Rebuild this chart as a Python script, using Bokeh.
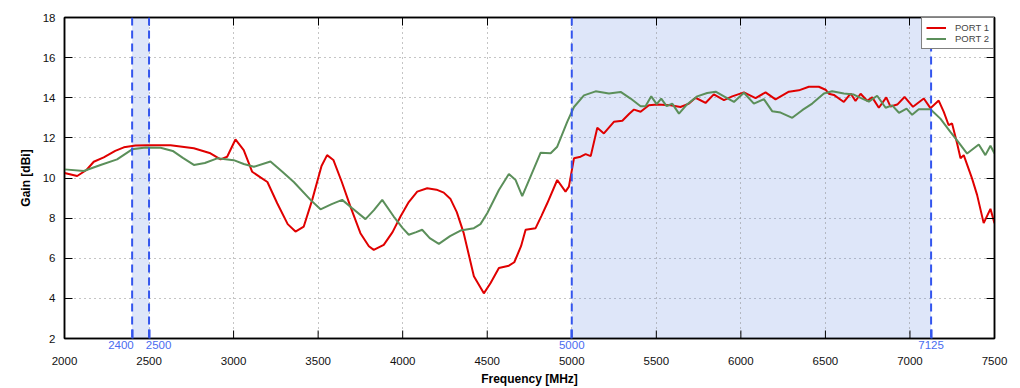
from bokeh.plotting import figure
from bokeh.models import (Range1d, FixedTicker, LinearAxis, BoxAnnotation, Span, Grid,
                          Legend, LegendItem, CustomJSTickFormatter)
from bokeh.embed import file_html
from bokeh.resources import INLINE

# ---------------- data ----------------
freq_p1 = [2000, 2075, 2130, 2173, 2232, 2300, 2351, 2420, 2489, 2627, 2765, 2863, 2923, 2962,
           3011, 3060, 3110, 3159, 3200, 3258, 3320, 3366, 3415, 3465, 3520, 3553, 3590, 3640,
           3691, 3750, 3800, 3829, 3888, 3940, 3987, 4036, 4086, 4145, 4200, 4243, 4283, 4320,
           4361, 4421, 4480, 4520, 4569, 4628, 4660, 4700, 4727, 4786, 4820, 4855, 4914, 4963,
           4983, 5013, 5052, 5082, 5112, 5151, 5190, 5249, 5299, 5340, 5368, 5407, 5456, 5506,
           5584, 5643, 5693, 5732, 5791, 5840, 5900, 5949, 6018, 6087, 6146, 6205, 6284, 6343,
           6402, 6461, 6501, 6520, 6550, 6609, 6649, 6678, 6708, 6747, 6777, 6816, 6860, 6885,
           6925, 6968, 7018, 7082, 7121, 7170, 7200, 7229, 7249, 7279, 7299, 7318, 7367, 7397,
           7436, 7476, 7500]
gain_p1 = [10.25, 10.1, 10.4, 10.81, 11.03, 11.35, 11.53, 11.62, 11.63, 11.63, 11.48, 11.23, 10.93, 11.06,
           11.92, 11.39, 10.31, 10.03, 9.8, 8.74, 7.7, 7.33, 7.58, 8.91, 10.6, 11.14, 10.9, 9.8,
           8.57, 7.25, 6.6, 6.42, 6.67, 7.3, 8.08, 8.8, 9.32, 9.49, 9.42, 9.27, 8.95, 8.3,
           7.25, 5.1, 4.25, 4.77, 5.51, 5.63, 5.8, 6.6, 7.42, 7.5, 8.1, 8.74, 9.9, 9.32,
           9.57, 10.98, 11.06, 11.19, 11.09, 12.5, 12.22, 12.8, 12.85, 13.2, 13.41, 13.3, 13.63, 13.66,
           13.63, 13.54, 13.71, 14.0, 13.74, 14.17, 13.88, 14.07, 14.27, 13.98, 14.27, 13.92, 14.3, 14.37,
           14.55, 14.55, 14.4, 14.2, 14.14, 13.79, 14.21, 13.84, 14.2, 13.85, 14.02, 13.5, 14.02, 13.56,
           13.66, 14.04, 13.55, 13.96, 13.48, 13.86, 13.3, 12.63, 12.72, 11.72, 10.98, 11.14, 9.98, 9.16,
           7.75, 8.46, 7.75]

freq_p2 = [2000, 2114, 2213, 2311, 2400, 2480, 2568, 2640, 2700, 2765, 2830, 2903, 3001, 3060,
           3120, 3218, 3290, 3356, 3455, 3514, 3580, 3642, 3700, 3780, 3830, 3879, 3947, 4000,
           4036, 4080, 4115, 4160, 4214, 4280, 4342, 4421, 4460, 4500, 4569, 4628, 4668, 4707,
           4756, 4816, 4875, 4914, 4973, 5013, 5072, 5141, 5220, 5289, 5348, 5407, 5436, 5470,
           5502, 5529, 5561, 5594, 5634, 5683, 5742, 5801, 5851, 5900, 5959, 6018, 6077, 6136,
           6185, 6235, 6304, 6363, 6422, 6491, 6540, 6609, 6668, 6708, 6757, 6806, 6856, 6895,
           6935, 6980, 7013, 7052, 7121, 7180, 7239, 7290, 7338, 7407, 7446, 7476, 7500]
gain_p2 = [10.43, 10.35, 10.65, 10.93, 11.43, 11.52, 11.51, 11.35, 11.0, 10.65, 10.75, 10.98, 10.89, 10.7,
           10.56, 10.82, 10.3, 9.8, 8.91, 8.44, 8.7, 8.91, 8.5, 7.95, 8.4, 8.91, 8.08, 7.5,
           7.17, 7.3, 7.42, 7.0, 6.72, 7.1, 7.38, 7.5, 7.7, 8.24, 9.4, 10.2, 9.9, 9.1,
           10.07, 11.26, 11.23, 11.56, 12.8, 13.54, 14.12, 14.32, 14.21, 14.29, 13.96, 13.58, 13.58, 14.07,
           13.68, 13.96, 13.58, 13.71, 13.21, 13.68, 14.07, 14.24, 14.3, 14.07, 13.79, 14.25, 13.71, 13.93,
           13.33, 13.26, 13.0, 13.38, 13.71, 14.21, 14.32, 14.21, 14.16, 13.99, 13.81, 14.1, 13.5, 13.62,
           13.25, 13.46, 13.15, 13.43, 13.43, 12.96, 12.3, 11.75, 11.22, 11.67, 11.14, 11.61, 11.22]

series_names = ["PORT 1", "PORT 2"]
x_ticks = list(range(2000, 7501, 500))
y_ticks = list(range(2, 19, 2))
bands = [(2400, 2500), (5000, 7125)]
band_edges = [2400, 2500, 5000, 7125]
band_labels = ["2400", "2500", "5000", "7125"]

# ---------------- style ----------------
FONT = "Liberation Sans"
RED = "#e00000"
GREEN = "#5b8f5a"
BLUE_LINE = "#3355ee"
BLUE_TEXT = "#4a6cf0"
NB = "\u00a0"
# horizontal nudges for the crowded 2400/2500 labels (padding only, text unchanged)
pad_after = [7, 0, 0, 0]
pad_before = [0, 6, 0, 0]

p = figure(width=1020, height=388, output_backend="svg", toolbar_location=None,
           x_range=Range1d(2000, 7500), y_range=Range1d(2, 18),
           min_border_left=64, min_border_right=26, min_border_top=17, min_border_bottom=49,
           background_fill_color="white", border_fill_color="white", x_axis_location=None)
p.outline_line_color = "black"
p.outline_line_width = 1.5

# bands
for lo, hi in bands:
    p.add_layout(BoxAnnotation(left=lo, right=hi, fill_color="#4f78e0", fill_alpha=0.19,
                               line_color=None, level="underlay"))

# grids
p.xgrid.visible = False
p.ygrid.grid_line_color = "#8a8a8a"
p.ygrid.grid_line_dash = "1 4"
p.ygrid.grid_line_width = 1
p.ygrid.ticker = FixedTicker(ticks=y_ticks)
vg = Grid(dimension=0, ticker=FixedTicker(ticks=x_ticks), grid_line_color="#8a8a8a",
          grid_line_dash="1 4", grid_line_width=1)
p.add_layout(vg, "center")

# band-edge axis (adjacent to the frame, blue)
overrides = {e: NB * b + t + NB * a for e, t, a, b in zip(band_edges, band_labels, pad_after, pad_before)}
ba = LinearAxis(ticker=FixedTicker(ticks=band_edges), major_label_overrides=overrides)
ba.major_tick_in = 9
ba.major_tick_out = 0
ba.major_tick_line_color = BLUE_LINE
ba.major_tick_line_width = 2
ba.minor_tick_line_color = None
ba.axis_line_color = "black"
ba.axis_line_width = 1.5
ba.major_label_standoff = 0
ba.major_label_text_color = BLUE_TEXT
ba.major_label_text_font = FONT
ba.major_label_text_font_size = "11.5px"
p.add_layout(ba, "below")

# main frequency axis (labels only, below the band labels)
xa = LinearAxis(ticker=FixedTicker(ticks=x_ticks), axis_label="Frequency [MHz]")
xa.major_tick_in = 0
xa.major_tick_out = 0
xa.major_tick_line_color = None
xa.minor_tick_line_color = None
xa.axis_line_color = None
xa.major_label_standoff = 3
xa.major_label_text_font = FONT
xa.major_label_text_font_size = "11.5px"
xa.major_label_text_color = "#111111"
xa.axis_label_standoff = 4
xa.axis_label_text_font = FONT
xa.axis_label_text_font_size = "12px"
xa.axis_label_text_font_style = "bold"
xa.axis_label_text_color = "black"
p.add_layout(xa, "below")

ya = p.yaxis[0]
ya.ticker = FixedTicker(ticks=y_ticks)
ya.major_tick_in = 8
ya.major_tick_out = 0
ya.minor_tick_line_color = None
ya.axis_line_color = "black"
ya.axis_line_width = 1.5
ya.major_tick_line_color = "black"
ya.major_label_text_font = FONT
ya.major_label_text_font_size = "11.5px"
ya.major_label_text_color = "#111111"
ya.axis_label = "Gain [dBi]"
ya.major_label_standoff = 9
ya.axis_label_standoff = 7
ya.axis_label_text_font = FONT
ya.axis_label_text_font_size = "12px"
ya.axis_label_text_font_style = "bold"
ya.axis_label_text_color = "black"

# mirror axes (ticks only)
blank = CustomJSTickFormatter(code="return ''")
ra = LinearAxis(ticker=FixedTicker(ticks=y_ticks), formatter=blank)
ta = LinearAxis(ticker=FixedTicker(ticks=x_ticks), formatter=blank)
for ax in (ra, ta):
    ax.major_tick_in = 8
    ax.major_tick_out = 0
    ax.minor_tick_line_color = None
    ax.axis_line_color = "black"
    ax.axis_line_width = 1.5
    ax.major_label_standoff = 0
    ax.major_label_text_font_size = "1px"
p.add_layout(ra, "right")
p.add_layout(ta, "above")

# black inward ticks on the bottom edge
p.ray(x=x_ticks, y=[y_ticks[0]] * len(x_ticks), length=8, length_units="screen",
      angle=90, angle_units="deg", line_color="black", line_width=1)

# curves
r1 = p.line(freq_p1, gain_p1, line_color=RED, line_width=2)
r2 = p.line(freq_p2, gain_p2, line_color=GREEN, line_width=2)

# band edge dashed lines
for xe in band_edges:
    p.add_layout(Span(location=xe, dimension="height", line_color=BLUE_LINE,
                      line_width=2, line_dash="8 5"))

legend = Legend(items=[LegendItem(label=series_names[0], renderers=[r1]),
                       LegendItem(label=series_names[1], renderers=[r2])],
                location="top_right")
legend.margin = 0
legend.padding = 4
legend.spacing = 0
legend.border_line_color = "black"
legend.border_line_width = 1
legend.background_fill_color = "white"
legend.background_fill_alpha = 1
legend.label_text_font = FONT
legend.label_text_font_size = "9.5px"
legend.glyph_width = 20
legend.glyph_height = 11
legend.label_height = 11
legend.label_standoff = 9
p.add_layout(legend)

open("out.html", "w").write(file_html(p, INLINE))
